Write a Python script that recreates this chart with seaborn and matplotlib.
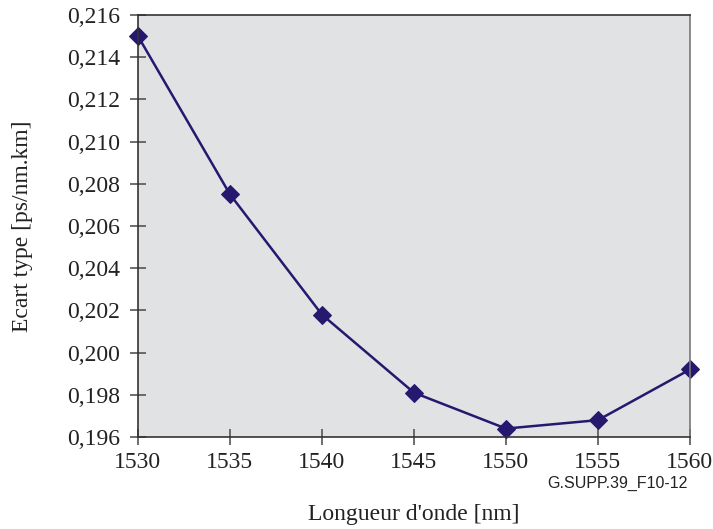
import matplotlib
matplotlib.use("Agg")
import matplotlib.pyplot as plt
import seaborn as sns
import pandas as pd
from matplotlib.ticker import FuncFormatter, MultipleLocator

wavelength = [1530, 1535, 1540, 1545, 1550, 1555, 1560]
ecart = [0.2150, 0.2075, 0.2018, 0.1981, 0.1964, 0.1968, 0.1992]

sns.set_theme(style="white")
plt.rcParams['font.family'] = ['Liberation Serif', 'DejaVu Serif']

df = pd.DataFrame({"wl": wavelength, "sd": ecart})

fig = plt.figure(figsize=(7.13, 5.29), dpi=100)
ax = fig.add_axes([0.1935, 0.1739, 0.9677 - 0.1935, 0.9716 - 0.1739])
ax.set_facecolor("#e1e2e4")

line_color = "#26186e"
sns.lineplot(data=df, x="wl", y="sd", ax=ax, color=line_color, linewidth=1.8,
             marker="D", markersize=9, markeredgecolor=line_color,
             markerfacecolor=line_color)

ax.set_xlim(1530, 1560)
ax.set_ylim(0.196, 0.216)
ax.xaxis.set_major_locator(MultipleLocator(5))
ax.yaxis.set_major_locator(MultipleLocator(0.002))
ax.yaxis.set_major_formatter(FuncFormatter(lambda v, p: f"{v:.3f}".replace(".", ",")))

for s in ["left", "bottom", "top"]:
    ax.spines[s].set_color("#333333")
    ax.spines[s].set_linewidth(1.2)
ax.spines["right"].set_color("#777777")
ax.spines["right"].set_linewidth(1.2)

ax.tick_params(axis="both", which="major", bottom=True, left=True, top=False, right=False,
               direction="inout", length=11.5, width=1.2,
               color="#555555", labelsize=17, labelcolor="#222222")
ax.tick_params(axis="y", pad=7)
ax.tick_params(axis="x", pad=5)
for ln in ax.lines:
    ln.set_clip_on(False)

ax.set_xlabel("Longueur d'onde [nm]", fontsize=17, color="#222222", va="center")
ax.xaxis.set_label_coords(0.5, -0.183)
ax.set_ylabel("Ecart type [ps/nm.km]", fontsize=17, color="#222222", va="center")
ax.yaxis.set_label_coords(-0.210, 0.5)

fig.text(0.965, 0.087, "G.SUPP.39_F10-12", ha="right", va="center",
         fontsize=11.5, family=["Liberation Sans", "DejaVu Sans"], color="#222222")

fig.savefig("out.png", dpi=100)
